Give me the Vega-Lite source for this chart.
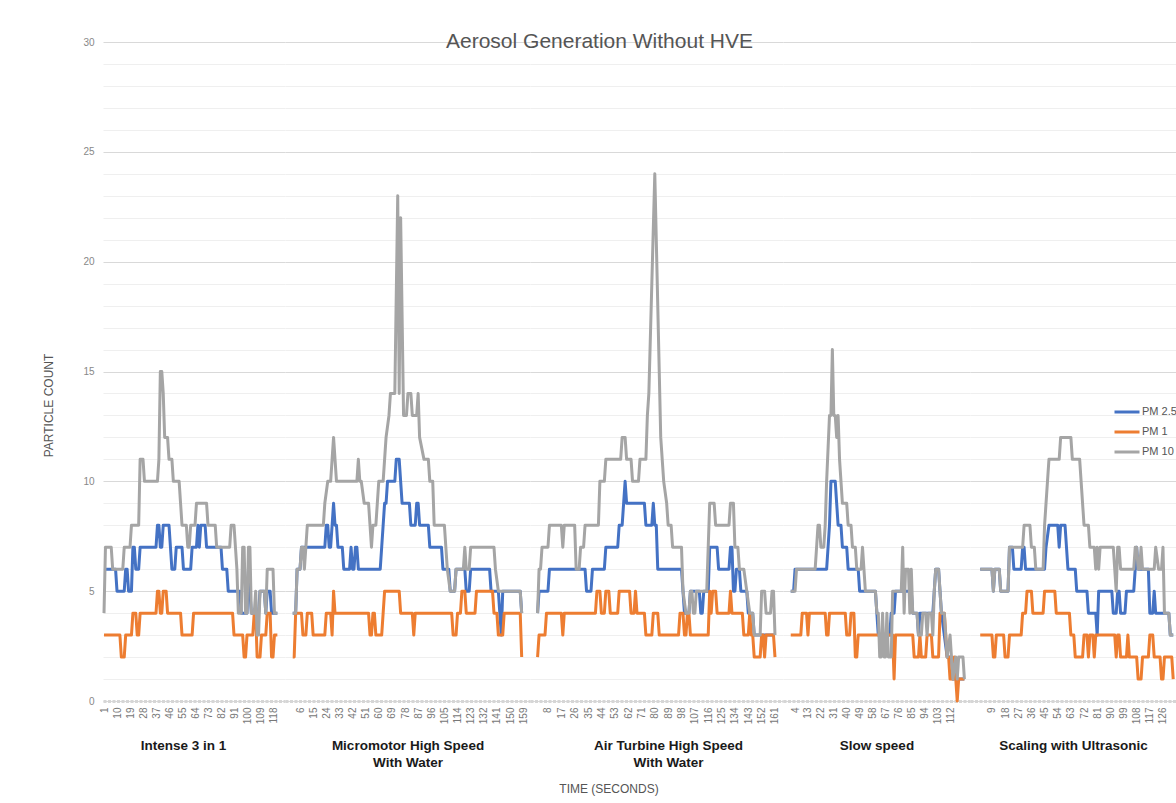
{
"$schema": "https://vega.github.io/schema/vega-lite/v6.json",
"background": "white",
"padding": {"left": 42, "top": 31, "right": 0, "bottom": 0},
"config": {"font": "Liberation Sans", "view": {"stroke": null},
 "axisX": {"labelAngle": -90, "labelFontSize": 10, "labelColor": "#777", "ticks": false, "grid": false, "domainColor": "#d6d6d6", "domainWidth": 3, "domainDash": [3, 1.5], "labelPadding": 6, "titleFontWeight": "bold", "titleColor": "#1a1a1a", "titleFontSize": 13.5, "titlePadding": 15, "titleLineHeight": 17, "labelOverlap": false, "labelFlush": false},
 "axisY": {"ticks": false, "domain": false, "grid": true, "labelColor": "#888", "labelFontSize": 10, "labelPadding": 9, "titleFontWeight": "normal", "titleColor": "#555", "titleFontSize": 12}
},
"title": {"text": "Aerosol Generation Without HVE", "fontSize": 21, "fontWeight": "normal", "color": "#555", "anchor": "middle", "offset": -15, "dx": -10},
"datasets": {
"A": [
{"series":"PM 2.5","time":1,"count":6},{"series":"PM 2.5","time":9,"count":6},{"series":"PM 2.5","time":10,"count":5},{"series":"PM 2.5","time":15,"count":5},{"series":"PM 2.5","time":16,"count":6},{"series":"PM 2.5","time":17,"count":6},{"series":"PM 2.5","time":18,"count":5},{"series":"PM 2.5","time":20,"count":5},{"series":"PM 2.5","time":21,"count":7},{"series":"PM 2.5","time":22,"count":7},{"series":"PM 2.5","time":23,"count":6},{"series":"PM 2.5","time":25,"count":6},{"series":"PM 2.5","time":26,"count":7},{"series":"PM 2.5","time":37,"count":7},{"series":"PM 2.5","time":38,"count":8},{"series":"PM 2.5","time":39,"count":8},{"series":"PM 2.5","time":40,"count":7},{"series":"PM 2.5","time":41,"count":7},{"series":"PM 2.5","time":42,"count":8},{"series":"PM 2.5","time":46,"count":8},{"series":"PM 2.5","time":47,"count":7},{"series":"PM 2.5","time":48,"count":6},{"series":"PM 2.5","time":50,"count":6},{"series":"PM 2.5","time":51,"count":7},{"series":"PM 2.5","time":55,"count":7},{"series":"PM 2.5","time":56,"count":6},{"series":"PM 2.5","time":61,"count":6},{"series":"PM 2.5","time":62,"count":7},{"series":"PM 2.5","time":65,"count":7},{"series":"PM 2.5","time":66,"count":8},{"series":"PM 2.5","time":67,"count":7},{"series":"PM 2.5","time":68,"count":8},{"series":"PM 2.5","time":71,"count":8},{"series":"PM 2.5","time":72,"count":7},{"series":"PM 2.5","time":82,"count":7},{"series":"PM 2.5","time":83,"count":6},{"series":"PM 2.5","time":86,"count":6},{"series":"PM 2.5","time":87,"count":5},{"series":"PM 2.5","time":95,"count":5},{"series":"PM 2.5","time":96,"count":4},{"series":"PM 2.5","time":100,"count":4},{"series":"PM 2.5","time":101,"count":6},{"series":"PM 2.5","time":102,"count":5},{"series":"PM 2.5","time":103,"count":4},{"series":"PM 2.5","time":108,"count":4},{"series":"PM 2.5","time":109,"count":5},{"series":"PM 2.5","time":112,"count":5},{"series":"PM 2.5","time":113,"count":4},{"series":"PM 2.5","time":114,"count":5},{"series":"PM 2.5","time":116,"count":5},{"series":"PM 2.5","time":117,"count":4},{"series":"PM 2.5","time":121,"count":4},
{"series":"PM 1","time":1,"count":3},{"series":"PM 1","time":12,"count":3},{"series":"PM 1","time":13,"count":2},{"series":"PM 1","time":15,"count":2},{"series":"PM 1","time":16,"count":3},{"series":"PM 1","time":20,"count":3},{"series":"PM 1","time":21,"count":4},{"series":"PM 1","time":23,"count":4},{"series":"PM 1","time":24,"count":3},{"series":"PM 1","time":25,"count":3},{"series":"PM 1","time":26,"count":4},{"series":"PM 1","time":37,"count":4},{"series":"PM 1","time":38,"count":5},{"series":"PM 1","time":39,"count":5},{"series":"PM 1","time":40,"count":4},{"series":"PM 1","time":41,"count":4},{"series":"PM 1","time":42,"count":5},{"series":"PM 1","time":44,"count":5},{"series":"PM 1","time":45,"count":4},{"series":"PM 1","time":54,"count":4},{"series":"PM 1","time":55,"count":3},{"series":"PM 1","time":62,"count":3},{"series":"PM 1","time":63,"count":4},{"series":"PM 1","time":90,"count":4},{"series":"PM 1","time":91,"count":3},{"series":"PM 1","time":97,"count":3},{"series":"PM 1","time":98,"count":2},{"series":"PM 1","time":99,"count":2},{"series":"PM 1","time":100,"count":3},{"series":"PM 1","time":104,"count":3},{"series":"PM 1","time":105,"count":4},{"series":"PM 1","time":106,"count":4},{"series":"PM 1","time":107,"count":2},{"series":"PM 1","time":109,"count":2},{"series":"PM 1","time":110,"count":3},{"series":"PM 1","time":113,"count":3},{"series":"PM 1","time":114,"count":4},{"series":"PM 1","time":116,"count":4},{"series":"PM 1","time":117,"count":2},{"series":"PM 1","time":118,"count":2},{"series":"PM 1","time":119,"count":3},{"series":"PM 1","time":121,"count":3},
{"series":"PM 10","time":1,"count":4},{"series":"PM 10","time":2,"count":7},{"series":"PM 10","time":6,"count":7},{"series":"PM 10","time":7,"count":6},{"series":"PM 10","time":14,"count":6},{"series":"PM 10","time":15,"count":7},{"series":"PM 10","time":19,"count":7},{"series":"PM 10","time":20,"count":8},{"series":"PM 10","time":25,"count":8},{"series":"PM 10","time":26,"count":11},{"series":"PM 10","time":28,"count":11},{"series":"PM 10","time":29,"count":10},{"series":"PM 10","time":38,"count":10},{"series":"PM 10","time":39,"count":11},{"series":"PM 10","time":40,"count":15},{"series":"PM 10","time":41,"count":15},{"series":"PM 10","time":42,"count":14},{"series":"PM 10","time":43,"count":12},{"series":"PM 10","time":45,"count":12},{"series":"PM 10","time":46,"count":11},{"series":"PM 10","time":48,"count":11},{"series":"PM 10","time":49,"count":10},{"series":"PM 10","time":53,"count":10},{"series":"PM 10","time":54,"count":9},{"series":"PM 10","time":55,"count":8},{"series":"PM 10","time":58,"count":8},{"series":"PM 10","time":59,"count":7},{"series":"PM 10","time":60,"count":7},{"series":"PM 10","time":61,"count":8},{"series":"PM 10","time":64,"count":8},{"series":"PM 10","time":65,"count":9},{"series":"PM 10","time":72,"count":9},{"series":"PM 10","time":73,"count":8},{"series":"PM 10","time":78,"count":8},{"series":"PM 10","time":79,"count":7},{"series":"PM 10","time":88,"count":7},{"series":"PM 10","time":89,"count":8},{"series":"PM 10","time":91,"count":8},{"series":"PM 10","time":92,"count":7},{"series":"PM 10","time":93,"count":6},{"series":"PM 10","time":94,"count":4},{"series":"PM 10","time":96,"count":4},{"series":"PM 10","time":97,"count":7},{"series":"PM 10","time":98,"count":7},{"series":"PM 10","time":99,"count":4},{"series":"PM 10","time":100,"count":4},{"series":"PM 10","time":101,"count":7},{"series":"PM 10","time":102,"count":7},{"series":"PM 10","time":103,"count":4},{"series":"PM 10","time":105,"count":4},{"series":"PM 10","time":106,"count":5},{"series":"PM 10","time":107,"count":3},{"series":"PM 10","time":108,"count":3},{"series":"PM 10","time":109,"count":5},{"series":"PM 10","time":112,"count":5},{"series":"PM 10","time":113,"count":4},{"series":"PM 10","time":114,"count":6},{"series":"PM 10","time":118,"count":6},{"series":"PM 10","time":119,"count":4},{"series":"PM 10","time":121,"count":4}
],
"B": [
{"series":"PM 2.5","time":1,"count":4},{"series":"PM 2.5","time":3,"count":4},{"series":"PM 2.5","time":4,"count":6},{"series":"PM 2.5","time":6,"count":6},{"series":"PM 2.5","time":7,"count":7},{"series":"PM 2.5","time":23,"count":7},{"series":"PM 2.5","time":24,"count":8},{"series":"PM 2.5","time":25,"count":8},{"series":"PM 2.5","time":26,"count":7},{"series":"PM 2.5","time":27,"count":7},{"series":"PM 2.5","time":28,"count":8},{"series":"PM 2.5","time":29,"count":9},{"series":"PM 2.5","time":30,"count":8},{"series":"PM 2.5","time":31,"count":8},{"series":"PM 2.5","time":32,"count":7},{"series":"PM 2.5","time":35,"count":7},{"series":"PM 2.5","time":36,"count":6},{"series":"PM 2.5","time":40,"count":6},{"series":"PM 2.5","time":41,"count":7},{"series":"PM 2.5","time":42,"count":6},{"series":"PM 2.5","time":43,"count":6},{"series":"PM 2.5","time":44,"count":7},{"series":"PM 2.5","time":45,"count":7},{"series":"PM 2.5","time":46,"count":6},{"series":"PM 2.5","time":61,"count":6},{"series":"PM 2.5","time":62,"count":7},{"series":"PM 2.5","time":63,"count":8},{"series":"PM 2.5","time":64,"count":9},{"series":"PM 2.5","time":65,"count":9},{"series":"PM 2.5","time":66,"count":10},{"series":"PM 2.5","time":71,"count":10},{"series":"PM 2.5","time":72,"count":11},{"series":"PM 2.5","time":74,"count":11},{"series":"PM 2.5","time":75,"count":10},{"series":"PM 2.5","time":76,"count":9},{"series":"PM 2.5","time":81,"count":9},{"series":"PM 2.5","time":82,"count":8},{"series":"PM 2.5","time":85,"count":8},{"series":"PM 2.5","time":86,"count":9},{"series":"PM 2.5","time":87,"count":9},{"series":"PM 2.5","time":88,"count":8},{"series":"PM 2.5","time":94,"count":8},{"series":"PM 2.5","time":95,"count":7},{"series":"PM 2.5","time":103,"count":7},{"series":"PM 2.5","time":104,"count":6},{"series":"PM 2.5","time":108,"count":6},{"series":"PM 2.5","time":109,"count":5},{"series":"PM 2.5","time":112,"count":5},{"series":"PM 2.5","time":113,"count":6},{"series":"PM 2.5","time":119,"count":6},{"series":"PM 2.5","time":120,"count":5},{"series":"PM 2.5","time":122,"count":5},{"series":"PM 2.5","time":123,"count":6},{"series":"PM 2.5","time":136,"count":6},{"series":"PM 2.5","time":137,"count":5},{"series":"PM 2.5","time":142,"count":5},{"series":"PM 2.5","time":143,"count":4},{"series":"PM 2.5","time":144,"count":3},{"series":"PM 2.5","time":145,"count":5},{"series":"PM 2.5","time":157,"count":5},{"series":"PM 2.5","time":158,"count":4},
{"series":"PM 1","time":1,"count":2},{"series":"PM 1","time":2,"count":2},{"series":"PM 1","time":3,"count":4},{"series":"PM 1","time":7,"count":4},{"series":"PM 1","time":8,"count":3},{"series":"PM 1","time":10,"count":3},{"series":"PM 1","time":11,"count":4},{"series":"PM 1","time":14,"count":4},{"series":"PM 1","time":15,"count":3},{"series":"PM 1","time":23,"count":3},{"series":"PM 1","time":24,"count":4},{"series":"PM 1","time":27,"count":4},{"series":"PM 1","time":28,"count":3},{"series":"PM 1","time":29,"count":5},{"series":"PM 1","time":30,"count":4},{"series":"PM 1","time":53,"count":4},{"series":"PM 1","time":54,"count":3},{"series":"PM 1","time":55,"count":3},{"series":"PM 1","time":56,"count":4},{"series":"PM 1","time":57,"count":4},{"series":"PM 1","time":58,"count":3},{"series":"PM 1","time":62,"count":3},{"series":"PM 1","time":63,"count":4},{"series":"PM 1","time":64,"count":5},{"series":"PM 1","time":74,"count":5},{"series":"PM 1","time":75,"count":4},{"series":"PM 1","time":83,"count":4},{"series":"PM 1","time":84,"count":3},{"series":"PM 1","time":85,"count":4},{"series":"PM 1","time":110,"count":4},{"series":"PM 1","time":111,"count":3},{"series":"PM 1","time":113,"count":3},{"series":"PM 1","time":114,"count":4},{"series":"PM 1","time":116,"count":4},{"series":"PM 1","time":117,"count":5},{"series":"PM 1","time":119,"count":5},{"series":"PM 1","time":120,"count":4},{"series":"PM 1","time":126,"count":4},{"series":"PM 1","time":127,"count":5},{"series":"PM 1","time":138,"count":5},{"series":"PM 1","time":139,"count":4},{"series":"PM 1","time":141,"count":4},{"series":"PM 1","time":142,"count":3},{"series":"PM 1","time":145,"count":3},{"series":"PM 1","time":146,"count":4},{"series":"PM 1","time":157,"count":4},{"series":"PM 1","time":158,"count":2},
{"series":"PM 10","time":1,"count":4},{"series":"PM 10","time":3,"count":4},{"series":"PM 10","time":4,"count":6},{"series":"PM 10","time":6,"count":6},{"series":"PM 10","time":7,"count":7},{"series":"PM 10","time":8,"count":7},{"series":"PM 10","time":9,"count":6},{"series":"PM 10","time":10,"count":7},{"series":"PM 10","time":11,"count":8},{"series":"PM 10","time":22,"count":8},{"series":"PM 10","time":23,"count":9},{"series":"PM 10","time":25,"count":10},{"series":"PM 10","time":27,"count":10},{"series":"PM 10","time":28,"count":11},{"series":"PM 10","time":29,"count":12},{"series":"PM 10","time":30,"count":11},{"series":"PM 10","time":31,"count":10},{"series":"PM 10","time":45,"count":10},{"series":"PM 10","time":46,"count":11},{"series":"PM 10","time":47,"count":10},{"series":"PM 10","time":48,"count":10},{"series":"PM 10","time":50,"count":9},{"series":"PM 10","time":53,"count":9},{"series":"PM 10","time":54,"count":8},{"series":"PM 10","time":55,"count":7},{"series":"PM 10","time":56,"count":8},{"series":"PM 10","time":58,"count":8},{"series":"PM 10","time":59,"count":9},{"series":"PM 10","time":60,"count":10},{"series":"PM 10","time":63,"count":10},{"series":"PM 10","time":65,"count":12},{"series":"PM 10","time":67,"count":13},{"series":"PM 10","time":68,"count":14},{"series":"PM 10","time":71,"count":14},{"series":"PM 10","time":73,"count":23},{"series":"PM 10","time":74,"count":14},{"series":"PM 10","time":75,"count":22},{"series":"PM 10","time":77,"count":13},{"series":"PM 10","time":79,"count":13},{"series":"PM 10","time":80,"count":14},{"series":"PM 10","time":82,"count":14},{"series":"PM 10","time":83,"count":13},{"series":"PM 10","time":86,"count":13},{"series":"PM 10","time":87,"count":14},{"series":"PM 10","time":88,"count":12},{"series":"PM 10","time":91,"count":11},{"series":"PM 10","time":94,"count":11},{"series":"PM 10","time":95,"count":10},{"series":"PM 10","time":97,"count":10},{"series":"PM 10","time":98,"count":8},{"series":"PM 10","time":105,"count":8},{"series":"PM 10","time":107,"count":6},{"series":"PM 10","time":109,"count":5},{"series":"PM 10","time":112,"count":5},{"series":"PM 10","time":113,"count":6},{"series":"PM 10","time":118,"count":6},{"series":"PM 10","time":119,"count":7},{"series":"PM 10","time":120,"count":6},{"series":"PM 10","time":122,"count":6},{"series":"PM 10","time":123,"count":7},{"series":"PM 10","time":139,"count":7},{"series":"PM 10","time":140,"count":6},{"series":"PM 10","time":142,"count":5},{"series":"PM 10","time":157,"count":5},{"series":"PM 10","time":158,"count":4}
],
"C": [
{"series":"PM 2.5","time":1,"count":4},{"series":"PM 2.5","time":2,"count":5},{"series":"PM 2.5","time":8,"count":5},{"series":"PM 2.5","time":9,"count":6},{"series":"PM 2.5","time":33,"count":6},{"series":"PM 2.5","time":34,"count":5},{"series":"PM 2.5","time":37,"count":5},{"series":"PM 2.5","time":38,"count":6},{"series":"PM 2.5","time":46,"count":6},{"series":"PM 2.5","time":47,"count":7},{"series":"PM 2.5","time":55,"count":7},{"series":"PM 2.5","time":56,"count":8},{"series":"PM 2.5","time":58,"count":8},{"series":"PM 2.5","time":59,"count":9},{"series":"PM 2.5","time":60,"count":10},{"series":"PM 2.5","time":61,"count":9},{"series":"PM 2.5","time":73,"count":9},{"series":"PM 2.5","time":74,"count":8},{"series":"PM 2.5","time":78,"count":8},{"series":"PM 2.5","time":79,"count":9},{"series":"PM 2.5","time":80,"count":8},{"series":"PM 2.5","time":81,"count":8},{"series":"PM 2.5","time":82,"count":6},{"series":"PM 2.5","time":98,"count":6},{"series":"PM 2.5","time":99,"count":5},{"series":"PM 2.5","time":100,"count":4},{"series":"PM 2.5","time":103,"count":4},{"series":"PM 2.5","time":104,"count":5},{"series":"PM 2.5","time":110,"count":5},{"series":"PM 2.5","time":111,"count":4},{"series":"PM 2.5","time":112,"count":4},{"series":"PM 2.5","time":113,"count":5},{"series":"PM 2.5","time":116,"count":5},{"series":"PM 2.5","time":117,"count":7},{"series":"PM 2.5","time":122,"count":7},{"series":"PM 2.5","time":123,"count":6},{"series":"PM 2.5","time":130,"count":6},{"series":"PM 2.5","time":131,"count":7},{"series":"PM 2.5","time":132,"count":7},{"series":"PM 2.5","time":133,"count":5},{"series":"PM 2.5","time":134,"count":5},{"series":"PM 2.5","time":135,"count":6},{"series":"PM 2.5","time":137,"count":6},{"series":"PM 2.5","time":138,"count":5},{"series":"PM 2.5","time":142,"count":5},{"series":"PM 2.5","time":143,"count":4},{"series":"PM 2.5","time":146,"count":4},{"series":"PM 2.5","time":147,"count":3},{"series":"PM 2.5","time":161,"count":3},
{"series":"PM 1","time":1,"count":2},{"series":"PM 1","time":2,"count":3},{"series":"PM 1","time":6,"count":3},{"series":"PM 1","time":7,"count":4},{"series":"PM 1","time":17,"count":4},{"series":"PM 1","time":18,"count":3},{"series":"PM 1","time":19,"count":4},{"series":"PM 1","time":40,"count":4},{"series":"PM 1","time":41,"count":5},{"series":"PM 1","time":43,"count":5},{"series":"PM 1","time":44,"count":4},{"series":"PM 1","time":46,"count":4},{"series":"PM 1","time":47,"count":5},{"series":"PM 1","time":49,"count":5},{"series":"PM 1","time":50,"count":4},{"series":"PM 1","time":55,"count":4},{"series":"PM 1","time":56,"count":5},{"series":"PM 1","time":63,"count":5},{"series":"PM 1","time":64,"count":4},{"series":"PM 1","time":66,"count":4},{"series":"PM 1","time":67,"count":5},{"series":"PM 1","time":68,"count":4},{"series":"PM 1","time":73,"count":4},{"series":"PM 1","time":74,"count":3},{"series":"PM 1","time":78,"count":3},{"series":"PM 1","time":79,"count":4},{"series":"PM 1","time":82,"count":4},{"series":"PM 1","time":83,"count":3},{"series":"PM 1","time":96,"count":3},{"series":"PM 1","time":97,"count":4},{"series":"PM 1","time":99,"count":4},{"series":"PM 1","time":100,"count":3},{"series":"PM 1","time":101,"count":3},{"series":"PM 1","time":102,"count":4},{"series":"PM 1","time":103,"count":4},{"series":"PM 1","time":104,"count":3},{"series":"PM 1","time":116,"count":3},{"series":"PM 1","time":117,"count":5},{"series":"PM 1","time":118,"count":4},{"series":"PM 1","time":119,"count":5},{"series":"PM 1","time":121,"count":5},{"series":"PM 1","time":122,"count":4},{"series":"PM 1","time":130,"count":4},{"series":"PM 1","time":131,"count":5},{"series":"PM 1","time":132,"count":4},{"series":"PM 1","time":139,"count":4},{"series":"PM 1","time":140,"count":3},{"series":"PM 1","time":143,"count":3},{"series":"PM 1","time":144,"count":4},{"series":"PM 1","time":145,"count":3},{"series":"PM 1","time":146,"count":3},{"series":"PM 1","time":147,"count":2},{"series":"PM 1","time":151,"count":2},{"series":"PM 1","time":152,"count":3},{"series":"PM 1","time":153,"count":3},{"series":"PM 1","time":154,"count":2},{"series":"PM 1","time":155,"count":3},{"series":"PM 1","time":160,"count":3},{"series":"PM 1","time":161,"count":2},
{"series":"PM 10","time":1,"count":4},{"series":"PM 10","time":2,"count":6},{"series":"PM 10","time":3,"count":6},{"series":"PM 10","time":4,"count":7},{"series":"PM 10","time":8,"count":7},{"series":"PM 10","time":9,"count":8},{"series":"PM 10","time":17,"count":8},{"series":"PM 10","time":18,"count":7},{"series":"PM 10","time":19,"count":8},{"series":"PM 10","time":26,"count":8},{"series":"PM 10","time":27,"count":6},{"series":"PM 10","time":29,"count":6},{"series":"PM 10","time":30,"count":7},{"series":"PM 10","time":32,"count":7},{"series":"PM 10","time":33,"count":8},{"series":"PM 10","time":42,"count":8},{"series":"PM 10","time":43,"count":10},{"series":"PM 10","time":46,"count":10},{"series":"PM 10","time":47,"count":11},{"series":"PM 10","time":57,"count":11},{"series":"PM 10","time":58,"count":12},{"series":"PM 10","time":60,"count":12},{"series":"PM 10","time":61,"count":11},{"series":"PM 10","time":64,"count":11},{"series":"PM 10","time":65,"count":10},{"series":"PM 10","time":69,"count":10},{"series":"PM 10","time":70,"count":11},{"series":"PM 10","time":74,"count":11},{"series":"PM 10","time":75,"count":13},{"series":"PM 10","time":76,"count":14},{"series":"PM 10","time":80,"count":24},{"series":"PM 10","time":84,"count":12},{"series":"PM 10","time":85,"count":11},{"series":"PM 10","time":86,"count":10},{"series":"PM 10","time":88,"count":9},{"series":"PM 10","time":89,"count":8},{"series":"PM 10","time":91,"count":8},{"series":"PM 10","time":92,"count":7},{"series":"PM 10","time":98,"count":7},{"series":"PM 10","time":99,"count":5},{"series":"PM 10","time":101,"count":4},{"series":"PM 10","time":103,"count":4},{"series":"PM 10","time":104,"count":5},{"series":"PM 10","time":105,"count":5},{"series":"PM 10","time":106,"count":4},{"series":"PM 10","time":107,"count":4},{"series":"PM 10","time":108,"count":5},{"series":"PM 10","time":115,"count":5},{"series":"PM 10","time":116,"count":7},{"series":"PM 10","time":117,"count":9},{"series":"PM 10","time":120,"count":9},{"series":"PM 10","time":121,"count":8},{"series":"PM 10","time":130,"count":8},{"series":"PM 10","time":131,"count":9},{"series":"PM 10","time":133,"count":9},{"series":"PM 10","time":134,"count":7},{"series":"PM 10","time":136,"count":7},{"series":"PM 10","time":137,"count":6},{"series":"PM 10","time":140,"count":6},{"series":"PM 10","time":142,"count":5},{"series":"PM 10","time":144,"count":4},{"series":"PM 10","time":146,"count":4},{"series":"PM 10","time":147,"count":3},{"series":"PM 10","time":151,"count":3},{"series":"PM 10","time":152,"count":5},{"series":"PM 10","time":154,"count":5},{"series":"PM 10","time":155,"count":4},{"series":"PM 10","time":158,"count":4},{"series":"PM 10","time":159,"count":5},{"series":"PM 10","time":160,"count":5},{"series":"PM 10","time":161,"count":3}
],
"D": [
{"series":"PM 2.5","time":1,"count":5},{"series":"PM 2.5","time":3,"count":5},{"series":"PM 2.5","time":4,"count":6},{"series":"PM 2.5","time":26,"count":6},{"series":"PM 2.5","time":27,"count":7},{"series":"PM 2.5","time":28,"count":8},{"series":"PM 2.5","time":29,"count":10},{"series":"PM 2.5","time":32,"count":10},{"series":"PM 2.5","time":33,"count":9},{"series":"PM 2.5","time":34,"count":8},{"series":"PM 2.5","time":36,"count":8},{"series":"PM 2.5","time":37,"count":7},{"series":"PM 2.5","time":40,"count":7},{"series":"PM 2.5","time":41,"count":6},{"series":"PM 2.5","time":48,"count":6},{"series":"PM 2.5","time":49,"count":5},{"series":"PM 2.5","time":60,"count":5},{"series":"PM 2.5","time":61,"count":4},{"series":"PM 2.5","time":62,"count":3},{"series":"PM 2.5","time":70,"count":3},{"series":"PM 2.5","time":71,"count":4},{"series":"PM 2.5","time":73,"count":4},{"series":"PM 2.5","time":74,"count":5},{"series":"PM 2.5","time":85,"count":5},{"series":"PM 2.5","time":86,"count":4},{"series":"PM 2.5","time":89,"count":4},{"series":"PM 2.5","time":90,"count":3},{"series":"PM 2.5","time":91,"count":4},{"series":"PM 2.5","time":100,"count":4},{"series":"PM 2.5","time":101,"count":5},{"series":"PM 2.5","time":102,"count":6},{"series":"PM 2.5","time":104,"count":6},{"series":"PM 2.5","time":105,"count":5},{"series":"PM 2.5","time":106,"count":4},{"series":"PM 2.5","time":108,"count":3},{"series":"PM 2.5","time":110,"count":2},{"series":"PM 2.5","time":113,"count":2},{"series":"PM 2.5","time":114,"count":1},{"series":"PM 2.5","time":122,"count":1},
{"series":"PM 1","time":1,"count":3},{"series":"PM 1","time":8,"count":3},{"series":"PM 1","time":9,"count":4},{"series":"PM 1","time":12,"count":4},{"series":"PM 1","time":13,"count":3},{"series":"PM 1","time":14,"count":4},{"series":"PM 1","time":25,"count":4},{"series":"PM 1","time":26,"count":3},{"series":"PM 1","time":27,"count":3},{"series":"PM 1","time":28,"count":4},{"series":"PM 1","time":39,"count":4},{"series":"PM 1","time":40,"count":3},{"series":"PM 1","time":42,"count":3},{"series":"PM 1","time":43,"count":4},{"series":"PM 1","time":45,"count":4},{"series":"PM 1","time":46,"count":2},{"series":"PM 1","time":47,"count":2},{"series":"PM 1","time":48,"count":3},{"series":"PM 1","time":72,"count":3},{"series":"PM 1","time":73,"count":1},{"series":"PM 1","time":74,"count":3},{"series":"PM 1","time":86,"count":3},{"series":"PM 1","time":87,"count":2},{"series":"PM 1","time":90,"count":2},{"series":"PM 1","time":91,"count":3},{"series":"PM 1","time":92,"count":2},{"series":"PM 1","time":95,"count":2},{"series":"PM 1","time":96,"count":3},{"series":"PM 1","time":99,"count":3},{"series":"PM 1","time":100,"count":2},{"series":"PM 1","time":104,"count":2},{"series":"PM 1","time":105,"count":4},{"series":"PM 1","time":108,"count":4},{"series":"PM 1","time":109,"count":3},{"series":"PM 1","time":110,"count":2},{"series":"PM 1","time":111,"count":2},{"series":"PM 1","time":112,"count":1},{"series":"PM 1","time":114,"count":1},{"series":"PM 1","time":115,"count":2},{"series":"PM 1","time":116,"count":1},{"series":"PM 1","time":117,"count":0},{"series":"PM 1","time":118,"count":1},{"series":"PM 1","time":122,"count":1},
{"series":"PM 10","time":1,"count":5},{"series":"PM 10","time":4,"count":5},{"series":"PM 10","time":5,"count":6},{"series":"PM 10","time":18,"count":6},{"series":"PM 10","time":19,"count":7},{"series":"PM 10","time":20,"count":8},{"series":"PM 10","time":21,"count":8},{"series":"PM 10","time":22,"count":7},{"series":"PM 10","time":24,"count":7},{"series":"PM 10","time":25,"count":8},{"series":"PM 10","time":26,"count":10},{"series":"PM 10","time":28,"count":13},{"series":"PM 10","time":29,"count":13},{"series":"PM 10","time":30,"count":16},{"series":"PM 10","time":31,"count":13},{"series":"PM 10","time":32,"count":13},{"series":"PM 10","time":33,"count":12},{"series":"PM 10","time":34,"count":13},{"series":"PM 10","time":35,"count":11},{"series":"PM 10","time":36,"count":10},{"series":"PM 10","time":37,"count":9},{"series":"PM 10","time":40,"count":9},{"series":"PM 10","time":41,"count":8},{"series":"PM 10","time":43,"count":8},{"series":"PM 10","time":44,"count":7},{"series":"PM 10","time":46,"count":7},{"series":"PM 10","time":47,"count":6},{"series":"PM 10","time":50,"count":6},{"series":"PM 10","time":51,"count":7},{"series":"PM 10","time":52,"count":6},{"series":"PM 10","time":53,"count":5},{"series":"PM 10","time":60,"count":5},{"series":"PM 10","time":61,"count":4},{"series":"PM 10","time":62,"count":4},{"series":"PM 10","time":63,"count":2},{"series":"PM 10","time":64,"count":2},{"series":"PM 10","time":65,"count":4},{"series":"PM 10","time":66,"count":2},{"series":"PM 10","time":67,"count":2},{"series":"PM 10","time":68,"count":4},{"series":"PM 10","time":69,"count":2},{"series":"PM 10","time":71,"count":2},{"series":"PM 10","time":72,"count":5},{"series":"PM 10","time":78,"count":5},{"series":"PM 10","time":79,"count":7},{"series":"PM 10","time":80,"count":4},{"series":"PM 10","time":81,"count":6},{"series":"PM 10","time":83,"count":6},{"series":"PM 10","time":84,"count":4},{"series":"PM 10","time":85,"count":6},{"series":"PM 10","time":86,"count":4},{"series":"PM 10","time":89,"count":4},{"series":"PM 10","time":90,"count":3},{"series":"PM 10","time":92,"count":3},{"series":"PM 10","time":93,"count":4},{"series":"PM 10","time":95,"count":4},{"series":"PM 10","time":96,"count":3},{"series":"PM 10","time":97,"count":4},{"series":"PM 10","time":99,"count":4},{"series":"PM 10","time":100,"count":3},{"series":"PM 10","time":101,"count":5},{"series":"PM 10","time":102,"count":6},{"series":"PM 10","time":104,"count":6},{"series":"PM 10","time":105,"count":5},{"series":"PM 10","time":106,"count":4},{"series":"PM 10","time":108,"count":4},{"series":"PM 10","time":110,"count":2},{"series":"PM 10","time":112,"count":3},{"series":"PM 10","time":113,"count":2},{"series":"PM 10","time":114,"count":1},{"series":"PM 10","time":116,"count":2},{"series":"PM 10","time":117,"count":1},{"series":"PM 10","time":118,"count":2},{"series":"PM 10","time":121,"count":2},{"series":"PM 10","time":122,"count":1}
],
"E": [
{"series":"PM 2.5","time":1,"count":6},{"series":"PM 2.5","time":9,"count":6},{"series":"PM 2.5","time":10,"count":5},{"series":"PM 2.5","time":11,"count":6},{"series":"PM 2.5","time":14,"count":6},{"series":"PM 2.5","time":15,"count":5},{"series":"PM 2.5","time":20,"count":5},{"series":"PM 2.5","time":21,"count":7},{"series":"PM 2.5","time":23,"count":7},{"series":"PM 2.5","time":24,"count":6},{"series":"PM 2.5","time":29,"count":6},{"series":"PM 2.5","time":30,"count":7},{"series":"PM 2.5","time":31,"count":7},{"series":"PM 2.5","time":32,"count":6},{"series":"PM 2.5","time":45,"count":6},{"series":"PM 2.5","time":46,"count":7},{"series":"PM 2.5","time":48,"count":8},{"series":"PM 2.5","time":54,"count":8},{"series":"PM 2.5","time":55,"count":7},{"series":"PM 2.5","time":56,"count":8},{"series":"PM 2.5","time":59,"count":8},{"series":"PM 2.5","time":60,"count":7},{"series":"PM 2.5","time":61,"count":6},{"series":"PM 2.5","time":66,"count":6},{"series":"PM 2.5","time":67,"count":5},{"series":"PM 2.5","time":74,"count":5},{"series":"PM 2.5","time":75,"count":4},{"series":"PM 2.5","time":80,"count":4},{"series":"PM 2.5","time":81,"count":3},{"series":"PM 2.5","time":82,"count":5},{"series":"PM 2.5","time":91,"count":5},{"series":"PM 2.5","time":92,"count":4},{"series":"PM 2.5","time":94,"count":4},{"series":"PM 2.5","time":95,"count":5},{"series":"PM 2.5","time":96,"count":5},{"series":"PM 2.5","time":97,"count":4},{"series":"PM 2.5","time":100,"count":4},{"series":"PM 2.5","time":101,"count":5},{"series":"PM 2.5","time":106,"count":5},{"series":"PM 2.5","time":107,"count":6},{"series":"PM 2.5","time":108,"count":7},{"series":"PM 2.5","time":109,"count":6},{"series":"PM 2.5","time":116,"count":6},{"series":"PM 2.5","time":117,"count":4},{"series":"PM 2.5","time":119,"count":4},{"series":"PM 2.5","time":120,"count":5},{"series":"PM 2.5","time":121,"count":4},{"series":"PM 2.5","time":130,"count":4},{"series":"PM 2.5","time":131,"count":3},{"series":"PM 2.5","time":133,"count":3},
{"series":"PM 1","time":1,"count":3},{"series":"PM 1","time":9,"count":3},{"series":"PM 1","time":10,"count":2},{"series":"PM 1","time":11,"count":2},{"series":"PM 1","time":12,"count":3},{"series":"PM 1","time":17,"count":3},{"series":"PM 1","time":18,"count":2},{"series":"PM 1","time":20,"count":2},{"series":"PM 1","time":21,"count":3},{"series":"PM 1","time":29,"count":3},{"series":"PM 1","time":30,"count":4},{"series":"PM 1","time":32,"count":4},{"series":"PM 1","time":33,"count":5},{"series":"PM 1","time":36,"count":5},{"series":"PM 1","time":37,"count":4},{"series":"PM 1","time":44,"count":4},{"series":"PM 1","time":45,"count":5},{"series":"PM 1","time":52,"count":5},{"series":"PM 1","time":53,"count":4},{"series":"PM 1","time":62,"count":4},{"series":"PM 1","time":63,"count":3},{"series":"PM 1","time":65,"count":3},{"series":"PM 1","time":66,"count":2},{"series":"PM 1","time":71,"count":2},{"series":"PM 1","time":72,"count":3},{"series":"PM 1","time":74,"count":3},{"series":"PM 1","time":75,"count":2},{"series":"PM 1","time":76,"count":3},{"series":"PM 1","time":78,"count":3},{"series":"PM 1","time":79,"count":2},{"series":"PM 1","time":80,"count":3},{"series":"PM 1","time":93,"count":3},{"series":"PM 1","time":94,"count":2},{"series":"PM 1","time":95,"count":3},{"series":"PM 1","time":96,"count":3},{"series":"PM 1","time":97,"count":2},{"series":"PM 1","time":101,"count":2},{"series":"PM 1","time":102,"count":3},{"series":"PM 1","time":103,"count":2},{"series":"PM 1","time":108,"count":2},{"series":"PM 1","time":109,"count":1},{"series":"PM 1","time":111,"count":1},{"series":"PM 1","time":112,"count":2},{"series":"PM 1","time":116,"count":2},{"series":"PM 1","time":117,"count":3},{"series":"PM 1","time":119,"count":3},{"series":"PM 1","time":120,"count":2},{"series":"PM 1","time":124,"count":2},{"series":"PM 1","time":125,"count":1},{"series":"PM 1","time":126,"count":1},{"series":"PM 1","time":127,"count":2},{"series":"PM 1","time":132,"count":2},{"series":"PM 1","time":133,"count":1},
{"series":"PM 10","time":1,"count":6},{"series":"PM 10","time":9,"count":6},{"series":"PM 10","time":10,"count":5},{"series":"PM 10","time":11,"count":6},{"series":"PM 10","time":14,"count":6},{"series":"PM 10","time":15,"count":5},{"series":"PM 10","time":20,"count":5},{"series":"PM 10","time":21,"count":7},{"series":"PM 10","time":30,"count":7},{"series":"PM 10","time":31,"count":8},{"series":"PM 10","time":35,"count":8},{"series":"PM 10","time":36,"count":7},{"series":"PM 10","time":38,"count":7},{"series":"PM 10","time":39,"count":6},{"series":"PM 10","time":44,"count":6},{"series":"PM 10","time":45,"count":8},{"series":"PM 10","time":47,"count":10},{"series":"PM 10","time":48,"count":11},{"series":"PM 10","time":55,"count":11},{"series":"PM 10","time":56,"count":12},{"series":"PM 10","time":63,"count":12},{"series":"PM 10","time":64,"count":11},{"series":"PM 10","time":69,"count":11},{"series":"PM 10","time":70,"count":10},{"series":"PM 10","time":72,"count":8},{"series":"PM 10","time":75,"count":8},{"series":"PM 10","time":76,"count":7},{"series":"PM 10","time":79,"count":7},{"series":"PM 10","time":80,"count":6},{"series":"PM 10","time":81,"count":7},{"series":"PM 10","time":82,"count":6},{"series":"PM 10","time":83,"count":7},{"series":"PM 10","time":92,"count":7},{"series":"PM 10","time":93,"count":6},{"series":"PM 10","time":94,"count":5},{"series":"PM 10","time":95,"count":7},{"series":"PM 10","time":96,"count":7},{"series":"PM 10","time":97,"count":6},{"series":"PM 10","time":106,"count":6},{"series":"PM 10","time":107,"count":7},{"series":"PM 10","time":108,"count":7},{"series":"PM 10","time":109,"count":6},{"series":"PM 10","time":110,"count":6},{"series":"PM 10","time":111,"count":7},{"series":"PM 10","time":112,"count":6},{"series":"PM 10","time":120,"count":6},{"series":"PM 10","time":121,"count":7},{"series":"PM 10","time":123,"count":6},{"series":"PM 10","time":125,"count":6},{"series":"PM 10","time":126,"count":7},{"series":"PM 10","time":127,"count":4},{"series":"PM 10","time":130,"count":4},{"series":"PM 10","time":131,"count":3},{"series":"PM 10","time":133,"count":3}
]
},
"vconcat": [{
"title": {"text": "TIME (SECONDS)", "orient": "bottom", "fontSize": 12, "fontWeight": "normal", "color": "#555", "offset": 15, "anchor": "middle"},
"spacing": 0,
"resolve": {"scale": {"x": "independent", "y": "independent", "color": "shared"}, "axis": {"x": "independent", "y": "independent"}},
"hconcat": [
{"width": 182, "height": 659, "data": {"name": "A"},
 "mark": {"type": "line", "strokeWidth": 3, "strokeJoin": "round"},
 "encoding": {
  "x": {"field": "time", "type": "quantitative", "scale": {"domain": [0.3, 126.3], "nice": false, "zero": false}, "axis": {"values": [1,10,19,28,37,46,55,64,73,82,91,100,109,118], "title": "Intense 3 in 1", "titleX": 80}},
  "y": {"field": "count", "type": "quantitative", "scale": {"domain": [0, 30], "nice": false}, "axis": {"values": [0,1,2,3,4,5,6,7,8,9,10,11,12,13,14,15,16,17,18,19,20,21,22,23,24,25,26,27,28,29,30], "labelExpr": "datum.value % 5 === 0 ? datum.label : ''", "gridColor": {"condition": {"test": "datum.value % 5 === 0", "value": "#d9d9d9"}, "value": "#efefef"}, "title": "PARTICLE COUNT", "titleX": -48, "titleY": 363}},
  "color": {"field": "series", "type": "nominal", "scale": {"domain": ["PM 2.5", "PM 1", "PM 10"], "range": ["#4472C4", "#ED7D31", "#A5A5A5"]}, "legend": {"orient": "none", "legendX": 1010, "legendY": 356, "title": null, "symbolType": "stroke", "symbolStrokeWidth": 3, "symbolSize": 625, "labelFontSize": 11, "labelColor": "#555", "rowPadding": -3, "labelOffset": 1}}
 }},
{"width": 245, "height": 659, "data": {"name": "B"},
 "mark": {"type": "line", "strokeWidth": 3, "strokeJoin": "round"},
 "encoding": {
  "x": {"field": "time", "type": "quantitative", "scale": {"domain": [-4.3, 163.7], "nice": false, "zero": false}, "axis": {"values": [6,15,24,33,42,51,60,69,78,87,96,105,114,123,132,141,150,159], "title": ["Micromotor High Speed", "With Water"]}},
  "y": {"field": "count", "type": "quantitative", "scale": {"domain": [0, 30], "nice": false}, "axis": {"values": [0,1,2,3,4,5,6,7,8,9,10,11,12,13,14,15,16,17,18,19,20,21,22,23,24,25,26,27,28,29,30], "labels": false, "gridColor": {"condition": {"test": "datum.value % 5 === 0", "value": "#d9d9d9"}, "value": "#efefef"}, "title": null}},
  "color": {"field": "series", "type": "nominal", "scale": {"domain": ["PM 2.5", "PM 1", "PM 10"], "range": ["#4472C4", "#ED7D31", "#A5A5A5"]}, "legend": {"orient": "none", "legendX": 1010, "legendY": 356, "title": null, "symbolType": "stroke", "symbolStrokeWidth": 3, "symbolSize": 625, "labelFontSize": 11, "labelColor": "#555", "rowPadding": -3, "labelOffset": 1}}
 }},
{"width": 253, "height": 659, "data": {"name": "C"},
 "mark": {"type": "line", "strokeWidth": 3, "strokeJoin": "round"},
 "encoding": {
  "x": {"field": "time", "type": "quantitative", "scale": {"domain": [-4.1, 166.4], "nice": false, "zero": false}, "axis": {"values": [8,17,26,35,44,53,62,71,80,89,98,107,116,125,134,143,152,161], "title": ["Air Turbine High Speed", "With Water"], "titleX": 138}},
  "y": {"field": "count", "type": "quantitative", "scale": {"domain": [0, 30], "nice": false}, "axis": {"values": [0,1,2,3,4,5,6,7,8,9,10,11,12,13,14,15,16,17,18,19,20,21,22,23,24,25,26,27,28,29,30], "labels": false, "gridColor": {"condition": {"test": "datum.value % 5 === 0", "value": "#d9d9d9"}, "value": "#efefef"}, "title": null}},
  "color": {"field": "series", "type": "nominal", "scale": {"domain": ["PM 2.5", "PM 1", "PM 10"], "range": ["#4472C4", "#ED7D31", "#A5A5A5"]}, "legend": {"orient": "none", "legendX": 1010, "legendY": 356, "title": null, "symbolType": "stroke", "symbolStrokeWidth": 3, "symbolSize": 625, "labelFontSize": 11, "labelColor": "#555", "rowPadding": -3, "labelOffset": 1}}
 }},
{"width": 187, "height": 659, "data": {"name": "D"},
 "mark": {"type": "line", "strokeWidth": 3, "strokeJoin": "round"},
 "encoding": {
  "x": {"field": "time", "type": "quantitative", "scale": {"domain": [-4.4, 125.9], "nice": false, "zero": false}, "axis": {"values": [4,13,22,31,40,49,58,67,76,85,94,103,112], "title": "Slow speed"}},
  "y": {"field": "count", "type": "quantitative", "scale": {"domain": [0, 30], "nice": false}, "axis": {"values": [0,1,2,3,4,5,6,7,8,9,10,11,12,13,14,15,16,17,18,19,20,21,22,23,24,25,26,27,28,29,30], "labels": false, "gridColor": {"condition": {"test": "datum.value % 5 === 0", "value": "#d9d9d9"}, "value": "#efefef"}, "title": null}},
  "color": {"field": "series", "type": "nominal", "scale": {"domain": ["PM 2.5", "PM 1", "PM 10"], "range": ["#4472C4", "#ED7D31", "#A5A5A5"]}, "legend": {"orient": "none", "legendX": 1010, "legendY": 356, "title": null, "symbolType": "stroke", "symbolStrokeWidth": 3, "symbolSize": 625, "labelFontSize": 11, "labelColor": "#555", "rowPadding": -3, "labelOffset": 1}}
 }},
{"width": 206, "height": 659, "data": {"name": "E"},
 "mark": {"type": "line", "strokeWidth": 3, "strokeJoin": "round"},
 "encoding": {
  "x": {"field": "time", "type": "quantitative", "scale": {"domain": [-6.0, 134.9], "nice": false, "zero": false}, "axis": {"values": [9,18,27,36,45,54,63,72,81,90,99,108,117,126], "title": "Scaling with Ultrasonic"}},
  "y": {"field": "count", "type": "quantitative", "scale": {"domain": [0, 30], "nice": false}, "axis": {"values": [0,1,2,3,4,5,6,7,8,9,10,11,12,13,14,15,16,17,18,19,20,21,22,23,24,25,26,27,28,29,30], "labels": false, "gridColor": {"condition": {"test": "datum.value % 5 === 0", "value": "#d9d9d9"}, "value": "#efefef"}, "title": null}},
  "color": {"field": "series", "type": "nominal", "scale": {"domain": ["PM 2.5", "PM 1", "PM 10"], "range": ["#4472C4", "#ED7D31", "#A5A5A5"]}, "legend": {"orient": "none", "legendX": 1010, "legendY": 356, "title": null, "symbolType": "stroke", "symbolStrokeWidth": 3, "symbolSize": 625, "labelFontSize": 11, "labelColor": "#555", "rowPadding": -3, "labelOffset": 1}}
 }}
]
}]
}
